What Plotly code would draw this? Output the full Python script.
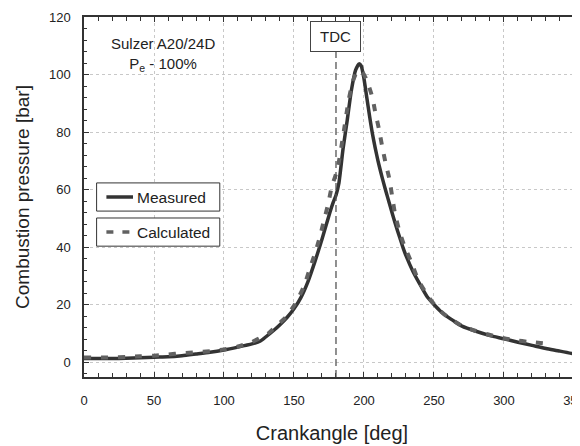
import plotly.graph_objects as go

# crank angle [deg] and pressure [bar]
meas_x = [0, 10, 20, 30, 40, 50, 60, 70, 80, 90, 100, 110, 120, 126, 130, 135,
          140, 145, 150, 155, 160, 165, 170, 175, 178, 180, 182, 185, 188, 191,
          194, 196.5, 198, 200, 202, 204, 206, 208, 210, 212, 214, 216, 218,
          220, 222, 224, 226, 228, 230, 235, 240, 245, 250, 255, 260, 265, 270,
          280, 290, 300, 310, 320, 330, 340, 350, 356]
meas_y = [1.2, 1.2, 1.2, 1.3, 1.5, 1.7, 1.8, 2.2, 2.8, 3.4, 4.2, 5.2, 6.3, 7.3,
          8.8, 10.8, 13, 15.5, 18.5, 22.5, 28, 35, 42.7, 51, 55.5, 58, 62, 74,
          84, 94.5, 101.5, 103.7, 103, 98.5, 92, 85.5, 79.5, 74.5, 70, 66, 62.3,
          58.8, 55.4, 52, 48.7, 45.6, 42.6, 39.6, 37, 31.5, 27, 22.8, 20, 17.5,
          15.6, 14, 12.5, 10.7, 9.2, 8.1, 6.9, 5.8, 4.7, 3.8, 2.8, 2.0]

calc_x = [0, 10, 20, 30, 40, 50, 60, 70, 80, 90, 100, 110, 120, 126, 132, 138,
          144, 151, 157, 161, 165, 168.5, 171.5, 174.5, 177, 181, 185, 189, 192,
          195, 197.5, 200, 202, 206, 208, 210.7, 213, 215.5, 218, 220, 222, 225,
          228.6, 233.6, 238.8, 246, 250, 255, 260, 270, 280, 290, 300, 310, 316,
          322, 330]
calc_y = [1.6, 1.6, 1.6, 1.8, 2.0, 2.2, 2.6, 3.1, 3.4, 3.8, 4.4, 5.4, 7.0, 8.4,
          10.1, 12.8, 15.5, 20.4, 26.2, 32, 37.8, 43.6, 49.4, 55.2, 61, 67,
          78.4, 91, 97.5, 101, 101.5, 100, 98, 92, 87, 81, 75, 69, 64, 58, 52,
          46, 40.7, 35, 28.5, 22.7, 20.2, 17.6, 15.6, 12.6, 10.8, 9.4, 8.3, 7.5,
          7.1, 6.8, 6.4]

tdc = 180
font = "Liberation Sans, Arial, sans-serif"

fig = go.Figure()
fig.add_trace(go.Scatter(x=meas_x, y=meas_y, mode="lines", name="Measured",
                         line=dict(color="#333333", width=3.5, shape="spline",
                                   smoothing=0.6),
                         showlegend=False))
fig.add_trace(go.Scatter(x=calc_x, y=calc_y, mode="lines", name="Calculated",
                         line=dict(color="#616161", width=4, dash="7px,10px",
                                   shape="spline", smoothing=0.6),
                         showlegend=False))

# TDC marker
fig.add_shape(type="line", x0=tdc, x1=tdc, y0=-5.2, y1=108.5, xref="x", yref="y",
              line=dict(color="#555555", width=1.3, dash="7px,4px"))
fig.add_annotation(x=tdc, y=113.3, xref="x", yref="y", text="TDC", showarrow=False,
                   font=dict(size=15, color="#222222"), bgcolor="white",
                   width=47, height=27, borderpad=1,
                   bordercolor="#444444", borderwidth=1)

fig.add_annotation(x=56.4, y=107, xref="x", yref="y", showarrow=False,
                   text="Sulzer A20/24D<br>P<sub>e</sub> - 100%",
                   font=dict(size=15, color="#222222"), align="center")

# two boxed legend entries
for (y0, y1, ymid, dash, label, col) in [
        (52.5, 62.3, 57.4, "solid", "Measured", "#333333"),
        (40.3, 50.1, 45.2, "7px,9px", "Calculated", "#616161")]:
    fig.add_shape(type="rect", x0=9, x1=97, y0=y0, y1=y1, xref="x", yref="y",
                  line=dict(color="#333333", width=1), fillcolor="white")
    fig.add_shape(type="line", x0=16, x1=35, y0=ymid, y1=ymid, xref="x", yref="y",
                  line=dict(color=col, width=3.5, dash=dash))
    fig.add_annotation(x=36.5, y=ymid, xref="x", yref="y", text=label,
                       showarrow=False, xanchor="left",
                       font=dict(size=15.5, color="#222222"))

axis_common = dict(showline=True, linecolor="#333333", linewidth=1.5,
                   ticks="inside", tickcolor="#333333", ticklen=5,
                   showgrid=True, gridcolor="#c8c8c8", griddash="dot",
                   gridwidth=1, zeroline=False, automargin=False,
                   ticklabeloverflow="allow",
                   tickfont=dict(size=13, color="#222222"))

fig.update_xaxes(range=[0, 354.3], dtick=50, mirror="ticks",
                 minor=dict(dtick=10, ticks="inside", ticklen=4,
                            tickcolor="#333333", showgrid=False),
                 ticklabelstandoff=11,
                 title=dict(text="Crankangle [deg]", standoff=19,
                            font=dict(size=20, color="#222222")),
                 **axis_common)
fig.update_yaxes(range=[-5.2, 120], dtick=20, mirror=False,
                 minor=dict(dtick=4, ticks="inside", ticklen=3,
                            tickcolor="#333333", showgrid=False),
                 ticklabelstandoff=9,
                 title=dict(text="Combustion pressure [bar]", standoff=14,
                            font=dict(size=19, color="#222222")),
                 **axis_common)

# page has an 8px body margin, so the figure is a little smaller than the window
fig.update_layout(width=572, height=438, margin=dict(l=76, r=0, t=9, b=69),
                  plot_bgcolor="white", paper_bgcolor="white",
                  font=dict(family=font, color="#222222"))

fig.write_html("out.html")
